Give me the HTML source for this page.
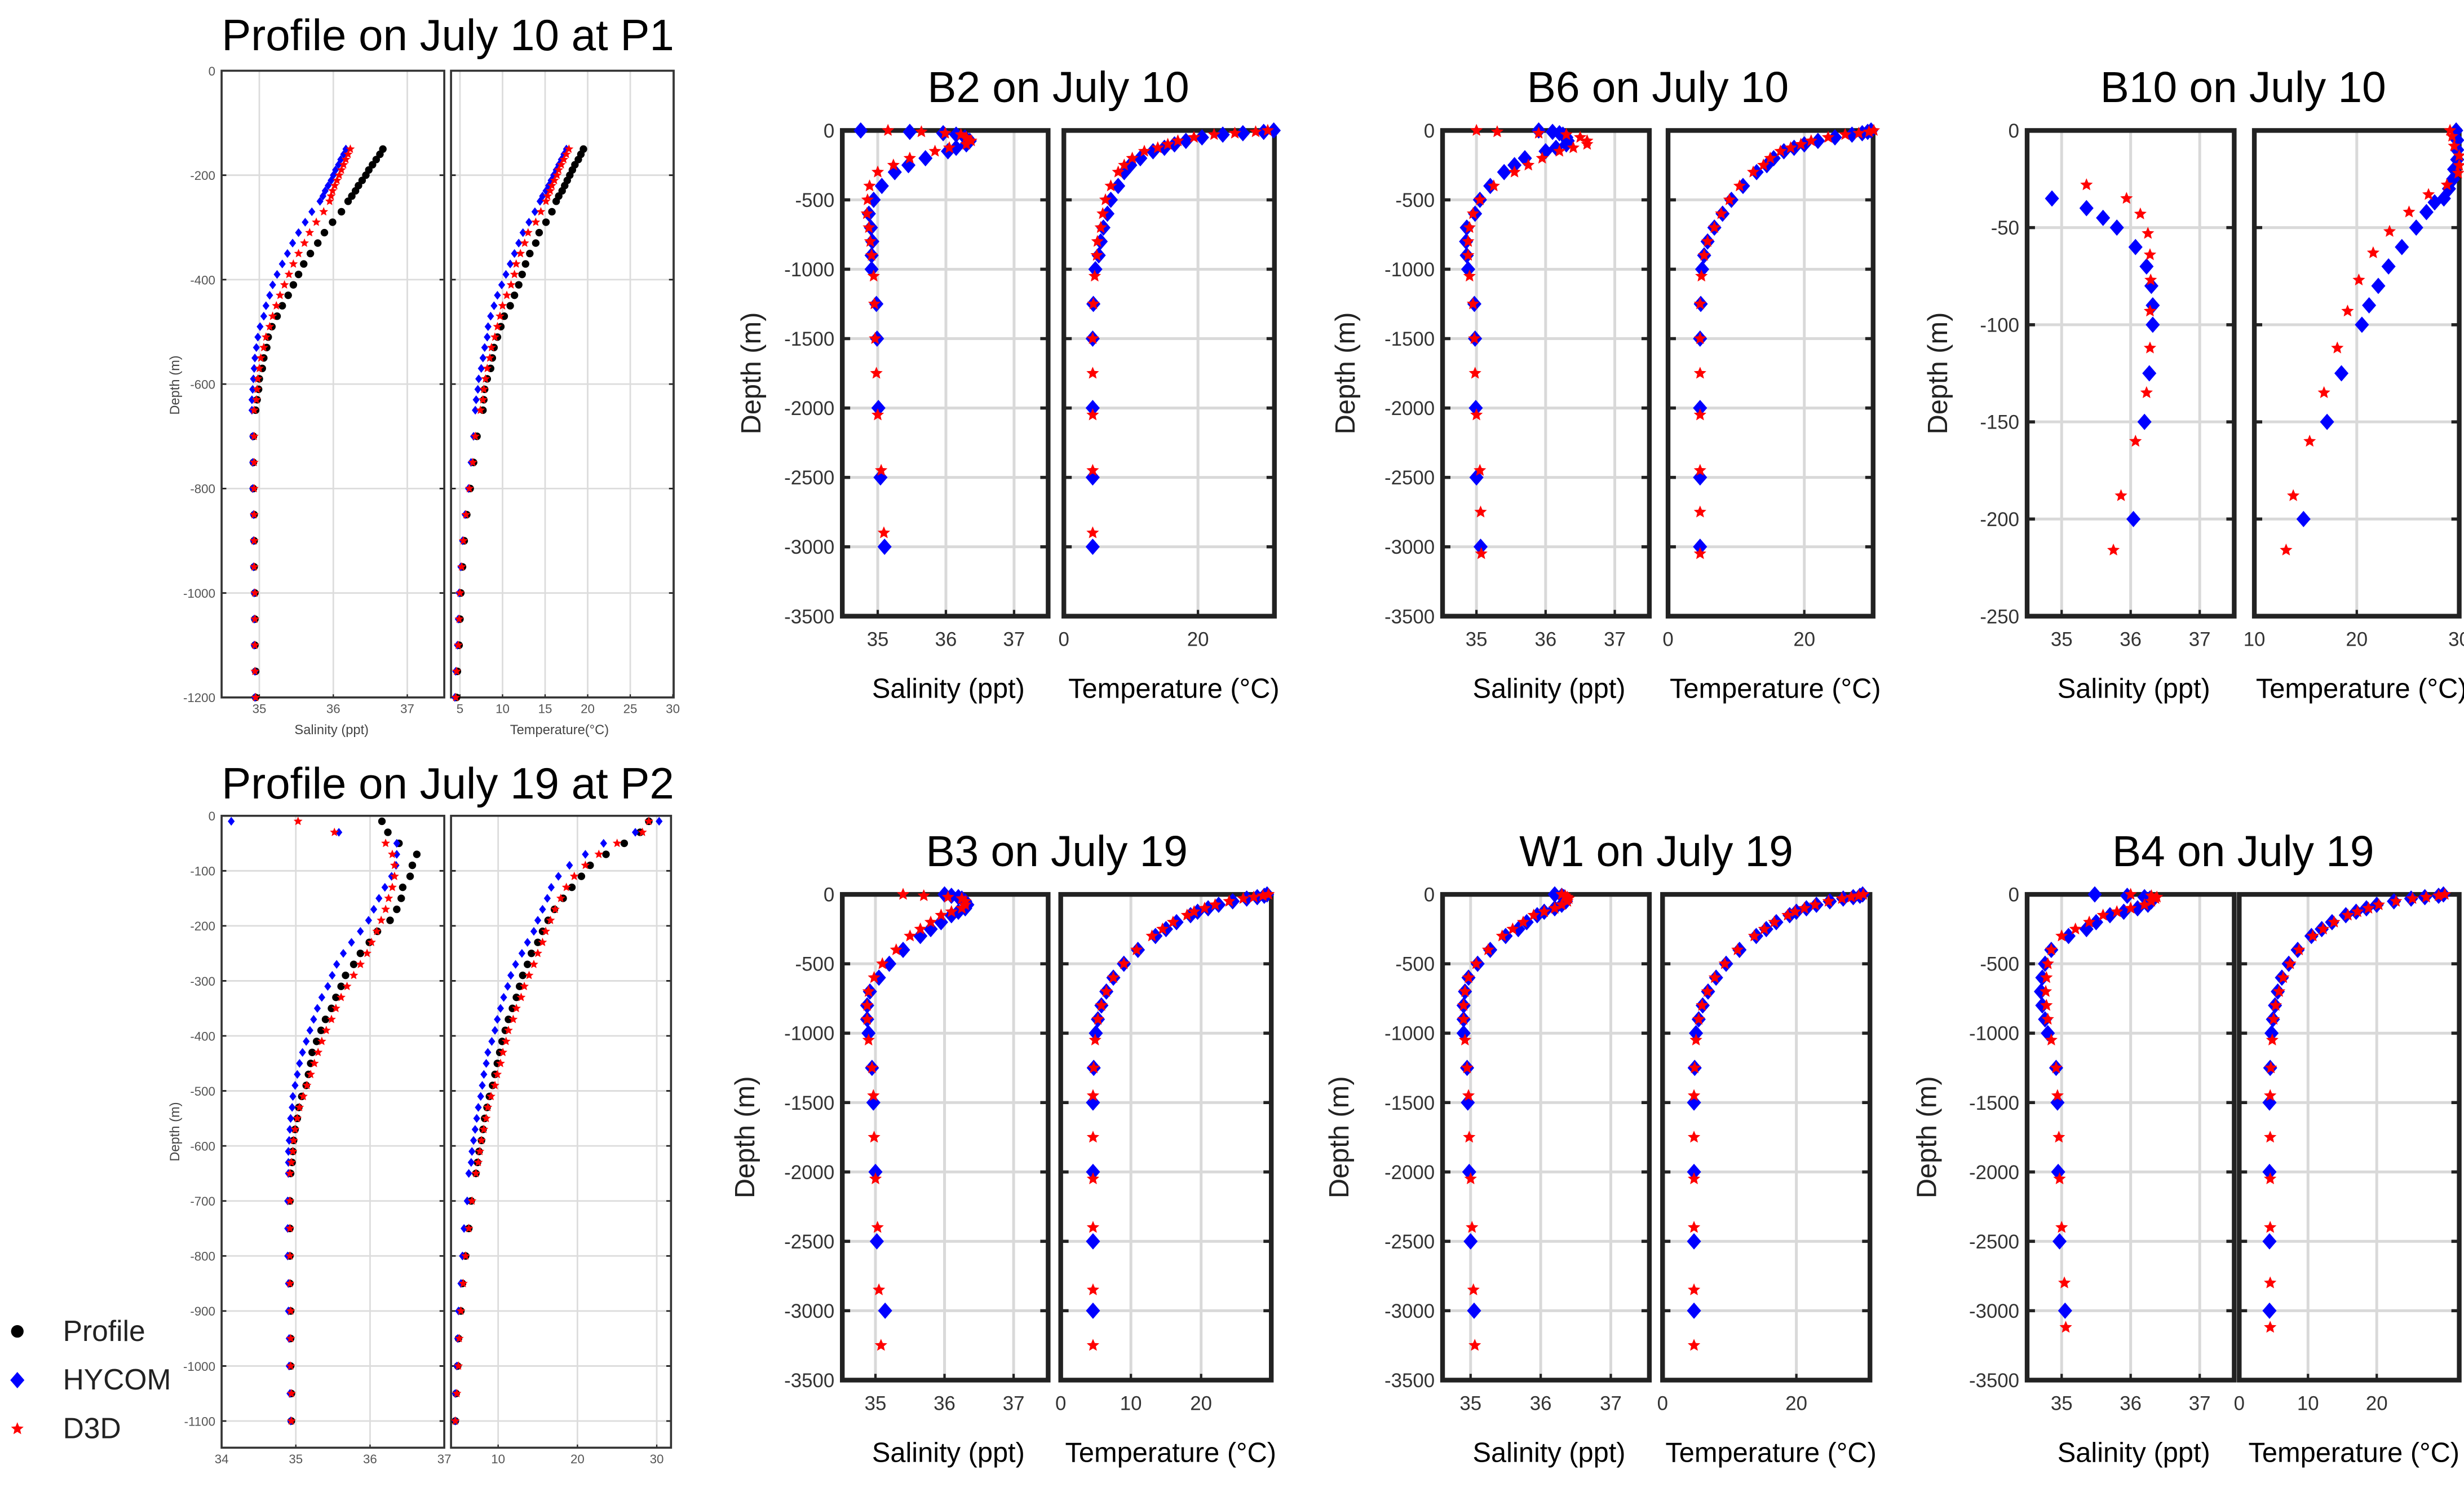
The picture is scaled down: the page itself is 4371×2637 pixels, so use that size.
<!DOCTYPE html>
<html><head><meta charset="utf-8"><title>Salinity and temperature profiles</title>
<style>
html,body{margin:0;padding:0;background:#fff;}
svg{display:block;}
text{font-family:"Liberation Sans",Arial,sans-serif;}
</style></head>
<body>
<svg id="fig" xmlns="http://www.w3.org/2000/svg" width="4371" height="2637" viewBox="0 0 1568 946">
<rect x="0" y="0" width="1568" height="946" fill="#fff"/>
</svg>
<script>
// ---------- tick arrays ----------
const p1DepthTicks=[0,200,400,600,800,1000,1200];
const p2DepthTicks=[0,100,200,300,400,500,600,700,800,900,1000,1100];
const bDepthTicks=[0,500,1000,1500,2000,2500,3000,3500];
const b10DepthTicks=[0,50,100,150,200,250];
const salTicks=[35,36,37];
const p2SalTicks=[34,35,36,37];
const p1TempTicks=[5,10,15,20,25,30];
const p2TempTicks=[10,20,30];
const tempTicks0_20=[0,20];
const tempTicks0_10_20=[0,10,20];
const tempTicks10_30=[10,20,30];

// ---------- P1 data ----------
const p1Depth=[150,160,170,180,190,200,210,220,230,240,250,270,290,310,330,350,370,390,410,430,450,470,490,510,530,550,570,590,610,630,650,700,750,800,850,900,950,1000,1050,1100,1150,1200];
const p1SalProfile=[36.67,36.63,36.58,36.53,36.48,36.44,36.39,36.34,36.3,36.25,36.2,36.11,35.99,35.88,35.79,35.69,35.6,35.53,35.46,35.39,35.31,35.24,35.17,35.12,35.1,35.06,35.04,35.0,34.99,34.97,34.95,34.92,34.92,34.92,34.93,34.93,34.93,34.94,34.94,34.94,34.95,34.95];
const p1SalHycom=[36.17,36.14,36.1,36.07,36.03,36.0,35.97,35.93,35.89,35.86,35.82,35.71,35.62,35.53,35.45,35.38,35.31,35.24,35.18,35.14,35.09,35.06,35.01,34.98,34.96,34.94,34.93,34.92,34.91,34.9,34.9,34.91,34.91,34.91,34.92,34.92,34.92,34.93,34.93,34.93,34.94,34.94];
const p1SalD3D=[36.23,36.2,36.17,36.14,36.11,36.08,36.05,36.02,35.99,35.97,35.95,35.87,35.77,35.68,35.61,35.53,35.46,35.4,35.34,35.28,35.23,35.18,35.14,35.09,35.06,35.02,35.0,34.98,34.97,34.96,34.93,34.93,34.93,34.93,34.93,34.93,34.93,34.94,34.94,34.94,34.94,34.95];
const p1TempProfile=[19.5,19.2,18.9,18.5,18.2,17.9,17.6,17.3,17.0,16.6,16.3,15.8,15.1,14.3,13.9,13.2,12.7,12.3,11.9,11.4,10.9,10.2,9.8,9.4,9.0,8.8,8.6,8.2,7.9,7.8,7.7,7.0,6.6,6.2,5.8,5.5,5.3,5.1,5.0,4.9,4.7,4.6];
const p1TempHycom=[17.5,17.2,16.9,16.6,16.3,16.0,15.7,15.4,15.1,14.7,14.4,13.8,13.1,12.4,11.9,11.4,10.9,10.4,9.9,9.4,9.0,8.6,8.3,8.2,7.9,7.7,7.5,7.2,7.1,6.9,6.8,6.6,6.3,6.0,5.6,5.3,5.1,4.9,4.8,4.7,4.5,4.4];
const p1TempD3D=[17.8,17.5,17.2,16.9,16.6,16.4,16.1,15.8,15.6,15.3,15.1,14.5,13.9,13.0,12.6,12.1,11.6,11.4,11.0,10.5,10.0,9.7,9.4,9.1,8.7,8.5,8.2,8.0,7.8,7.7,7.4,6.8,6.5,6.1,5.7,5.4,5.2,5.0,4.9,4.8,4.6,4.5];

// ---------- P2 data ----------
const p2Depth=[10,30,50,70,90,110,130,150,170,190,210,230,250,270,290,310,330,350,370,390,410,430,450,470,490,510,530,550,570,590,610,630,650,700,750,800,850,900,950,1000,1050,1100];
const p2SalProfile=[36.16,36.24,36.39,36.63,36.57,36.54,36.44,36.42,36.36,36.27,36.1,35.99,35.87,35.78,35.67,35.61,35.54,35.48,35.4,35.34,35.28,35.22,35.2,35.17,35.14,35.08,35.04,35.02,34.99,34.97,34.96,34.95,34.93,34.92,34.92,34.92,34.92,34.93,34.93,34.93,34.94,34.94];
const p2SalHycom=[34.13,35.58,36.36,36.36,36.35,36.29,36.2,36.12,36.05,35.98,35.87,35.75,35.64,35.55,35.49,35.43,35.35,35.29,35.24,35.19,35.14,35.09,35.05,35.02,34.99,34.96,34.95,34.93,34.92,34.91,34.9,34.9,34.9,34.89,34.89,34.89,34.9,34.9,34.91,34.91,34.92,34.93];
const p2SalD3D=[35.03,35.52,36.21,36.3,36.33,36.33,36.3,36.25,36.21,36.15,36.09,36.02,35.96,35.87,35.78,35.69,35.61,35.54,35.48,35.41,35.35,35.3,35.25,35.2,35.15,35.1,35.05,35.02,34.99,34.97,34.96,34.94,34.92,34.92,34.92,34.92,34.92,34.93,34.93,34.93,34.94,34.94];
const p2TempProfile=[29.0,27.9,25.9,23.6,21.6,20.5,19.3,18.2,17.1,16.3,15.6,15.0,14.2,13.7,13.1,12.7,12.3,11.8,11.3,10.9,10.5,10.2,9.9,9.6,9.3,8.9,8.6,8.3,8.1,7.9,7.6,7.4,7.2,6.6,6.3,5.9,5.5,5.3,5.0,4.9,4.7,4.6];
const p2TempHycom=[30.3,27.3,23.3,21.0,19.0,17.6,16.7,16.2,15.6,15.0,14.5,13.7,13.0,12.2,11.6,11.2,10.7,10.3,9.9,9.6,9.2,8.7,8.5,8.2,8.0,7.8,7.5,7.3,7.1,6.9,6.7,6.6,6.3,6.1,5.7,5.5,5.3,5.0,4.9,4.8,4.6,4.6];
const p2TempD3D=[29.0,28.2,25.0,22.7,21.0,19.6,18.6,17.9,17.2,16.6,16.0,15.6,15.0,14.5,13.9,13.3,12.9,12.3,11.9,11.3,11.0,10.6,10.3,9.9,9.6,9.1,8.7,8.5,8.2,7.9,7.7,7.5,7.2,6.7,6.3,5.9,5.6,5.3,5.1,5.0,4.8,4.6];

// ---------- B-station shared depths ----------
const hycomDepth=[0,10,20,30,50,75,100,125,150,200,250,300,400,500,600,700,800,900,1000,1250,1500,2000,2500,3000];
const d3dDepthRow1=[0,10,20,30,50,75,100,125,150,200,250,300,400,500,600,700,800,900,1050,1250,1500,1750,2050,2450,2900];
const b6D3DDepth=[0,10,20,30,50,75,100,125,150,200,250,300,400,500,600,700,800,900,1050,1250,1500,1750,2050,2450,2750,3050];
const d3dDepthRow2=[0,10,20,30,50,75,100,125,150,200,250,300,400,500,600,700,800,900,1050,1250,1450,1750,2050,2400,2850,3250];
const b4D3DDepth=[0,10,20,30,50,75,100,125,150,200,250,300,400,500,600,700,800,900,1050,1250,1450,1750,2050,2400,2800,3120];

// B2
const b2SalHycom=[34.75,35.47,35.96,36.15,36.28,36.35,36.3,36.15,36.03,35.7,35.45,35.25,35.06,34.94,34.87,34.9,34.92,34.91,34.91,34.98,34.99,35.01,35.04,35.1];
const b2TempHycom=[31.3,29.8,26.7,23.7,20.6,18.2,16.5,15.0,13.3,11.4,9.9,9.0,8.1,7.0,6.5,5.9,5.5,5.2,4.7,4.4,4.3,4.3,4.3,4.3];
const b2SalD3D=[35.15,35.64,35.99,36.22,36.3,36.37,36.3,36.05,35.84,35.47,35.23,35.0,34.88,34.85,34.84,34.87,34.89,34.91,34.94,34.95,34.96,34.98,35.0,35.05,35.09];
const b2TempD3D=[30.4,28.6,25.5,22.4,19.4,17.0,15.5,14.0,12.0,10.2,9.0,8.1,7.0,6.2,5.8,5.5,5.0,4.9,4.6,4.4,4.3,4.3,4.3,4.3,4.3];
// B6
const b6SalHycom=[35.9,36.1,36.2,36.25,36.3,36.32,36.3,36.15,36.0,35.7,35.55,35.4,35.2,35.05,34.98,34.86,34.85,34.86,34.88,34.97,34.98,34.99,35.0,35.06];
const b6TempHycom=[29.8,29.3,28.5,27.0,24.5,22.0,20.0,18.5,17.0,15.5,14.5,13.0,11.0,9.3,8.0,6.8,5.8,5.3,5.0,4.8,4.7,4.7,4.7,4.7];
const b6SalD3D=[35.0,35.3,35.9,36.3,36.5,36.6,36.6,36.4,36.2,35.95,35.75,35.55,35.25,35.05,34.95,34.9,34.88,34.88,34.9,34.95,34.97,34.98,35.0,35.05,35.06,35.07];
const b6TempD3D=[30.2,29.5,28.0,26.0,23.5,21.0,19.5,18.0,16.5,15.0,14.0,12.5,10.5,9.0,7.8,6.8,5.8,5.3,4.9,4.7,4.7,4.7,4.7,4.7,4.7,4.7];
// B10
const b10HycomDepth=[0,5,10,15,20,25,30,35,37,40,42,45,50,60,70,80,90,100,125,150,200];
const b10SalHycom=[null,null,null,null,null,null,null,34.86,null,35.36,null,35.6,35.8,36.07,36.23,36.3,36.32,36.32,36.27,36.2,36.04];
const b10TempHycom=[29.7,29.8,29.8,29.8,29.5,29.4,29.0,28.5,27.6,null,26.8,null,25.8,24.4,23.1,22.1,21.2,20.5,18.5,17.1,14.8];
const b10D3DDepth=[0,3,8,13,18,22,28,33,35,42,43,52,53,63,64,77,93,112,135,160,188,216];
const b10SalD3D=[null,null,null,null,null,null,35.36,null,35.94,null,36.14,null,36.25,null,36.28,36.29,36.28,36.28,36.23,36.07,35.86,35.75];
const b10TempD3D=[29.1,29.3,29.5,30.0,30.0,29.9,28.8,27.0,null,25.1,null,23.2,null,21.6,null,20.2,19.1,18.1,16.8,15.4,13.8,13.1];
// B3
const b3SalHycom=[36.0,36.1,36.2,36.25,36.3,36.33,36.3,36.2,36.1,35.95,35.8,35.65,35.4,35.2,35.05,34.92,34.88,34.88,34.9,34.95,34.97,35.0,35.02,35.14];
const b3TempHycom=[29.4,29.0,28.0,26.5,24.5,22.5,21.0,19.5,18.5,16.5,15.0,13.5,11.0,9.0,7.5,6.5,5.8,5.3,5.0,4.7,4.6,4.6,4.6,4.6];
const b3SalD3D=[35.4,35.7,36.05,36.25,36.3,36.3,36.25,36.1,35.95,35.8,35.65,35.5,35.3,35.1,34.98,34.9,34.88,34.88,34.9,34.95,34.97,34.98,35.0,35.03,35.05,35.08];
const b3TempD3D=[29.6,28.8,27.5,26.0,24.0,22.0,20.5,19.0,18.0,16.0,14.5,13.0,10.8,9.0,7.5,6.5,5.8,5.3,4.9,4.7,4.6,4.6,4.6,4.6,4.6,4.6];
// W1
const w1SalHycom=[36.2,36.3,36.33,36.35,36.36,36.3,36.2,36.05,35.95,35.8,35.68,35.5,35.28,35.1,34.97,34.92,34.9,34.9,34.9,34.95,34.96,34.98,35.0,35.05];
const w1TempHycom=[29.9,29.5,28.5,27.0,25.0,23.0,21.5,20.0,19.0,17.0,15.5,14.0,11.5,9.5,8.0,6.8,6.0,5.4,5.0,4.8,4.7,4.7,4.7,4.7];
const w1SalD3D=[36.3,36.35,36.38,36.4,36.38,36.3,36.2,36.05,35.9,35.75,35.6,35.45,35.25,35.08,34.97,34.92,34.9,34.9,34.92,34.95,34.97,34.98,35.0,35.02,35.04,35.06];
const w1TempD3D=[30.0,29.3,28.2,26.8,24.8,22.8,21.2,19.8,18.7,16.7,15.2,13.7,11.2,9.3,7.8,6.7,5.9,5.4,5.0,4.8,4.7,4.7,4.7,4.7,4.7,4.7];
// B4
const b4SalHycom=[35.48,35.95,36.2,36.28,36.3,36.25,36.1,35.9,35.7,35.5,35.36,35.1,34.85,34.76,34.72,34.7,34.72,34.76,34.8,34.92,34.94,34.95,34.97,35.05];
const b4TempHycom=[29.7,29.0,27.0,25.0,22.5,20.0,18.5,17.0,15.5,13.5,12.0,10.5,8.5,7.2,6.2,5.6,5.2,4.9,4.7,4.5,4.4,4.4,4.4,4.4];
const b4SalD3D=[36.0,36.3,36.38,36.36,36.3,36.2,36.0,35.8,35.6,35.4,35.2,35.0,34.85,34.8,34.78,34.77,34.78,34.8,34.85,34.92,34.94,34.96,34.97,35.0,35.04,35.06];
const b4TempD3D=[29.9,29.0,27.2,25.2,22.8,20.3,18.8,17.2,15.8,13.8,12.2,10.7,8.7,7.4,6.4,5.8,5.3,5.0,4.8,4.6,4.5,4.5,4.5,4.5,4.5,4.5];

// ---------- drawing ----------
const NS='http://www.w3.org/2000/svg';
const svg=document.getElementById('fig');
function mk(tag,parent){const e=document.createElementNS(NS,tag);parent.appendChild(e);return e;}
function setA(e,o){for(const k in o)e.setAttribute(k,o[k]);}

function axis(cfg){
  const g=mk('g',svg);
  
  
  const sx=v=>cfg.x0+(v-cfg.xmin)/(cfg.xmax-cfg.xmin)*(cfg.x1-cfg.x0);
  const sy=d=>cfg.y0+d/cfg.dmax*(cfg.y1-cfg.y0);
  const thick=cfg.thick;
  const gc=thick?'#d9d9d9':'#dcdcdc', gw=thick?1.8:1;
  cfg.xticks.forEach(t=>{
    const x=sx(t);
    const l=mk('line',g);setA(l,{x1:x,x2:x,y1:cfg.y0,y2:cfg.y1,stroke:gc,'stroke-width':gw});
    
    
    const tk=mk('line',g);setA(tk,{x1:x,x2:x,y1:cfg.y1,y2:cfg.y1-(thick?4:2),stroke:'#222','stroke-width':thick?1.5:0.8});
    
    
    const tx=mk('text',g);setA(tx,{x:x,y:cfg.y1+(thick?19:10),'text-anchor':'middle','font-size':thick?12.5:8,fill:thick?'#333':'#555'});
    tx.textContent=String(t);
    
    
  });
  cfg.yticks.forEach(t=>{
    const y=sy(t);
    if(t>0&&t<cfg.dmax){
      const l=mk('line',g);setA(l,{x1:cfg.x0,x2:cfg.x1,y1:y,y2:y,stroke:gc,'stroke-width':gw});
      
      
    }
    const tl=mk('path',g);const L=thick?5:3;
    setA(tl,{d:`M${cfg.x0},${y}h${L}M${cfg.x1},${y}h${-L}`,stroke:'#222','stroke-width':thick?2:1});
    
    
    if(cfg.ylabels){
      const tx=mk('text',g);setA(tx,{x:cfg.x0-(thick?5:4),y:y+(thick?4.5:3),'text-anchor':'end','font-size':thick?12.5:8,fill:thick?'#333':'#555'});
      tx.textContent=t===0?'0':'-'+t;
      
      
    }
  });
  const r=mk('rect',g);setA(r,{x:cfg.x0,y:cfg.y0,width:cfg.x1-cfg.x0,height:cfg.y1-cfg.y0,fill:'none',stroke:thick?'#222':'#333','stroke-width':thick?3:1.3});
  
  
  cfg.sx=sx;cfg.sy=sy;cfg.g=g;
  return cfg;
}

function marker(g,type,x,y,big){
  let e;
  if(type==='dot'){e=mk('circle',g);setA(e,{cx:x,cy:y,r:big?4:2.4,fill:'#000'});}
  else if(type==='diamond'){const w=big?4.5:2.2,h=big?5.2:2.8;e=mk('polygon',g);setA(e,{points:`${x},${y-h} ${x+w},${y} ${x},${y+h} ${x-w},${y}`,fill:'#0000ff'});}
  else{const R=big?4.2:3,ri=R*0.45;let p=[];for(let i=0;i<10;i++){const a=-Math.PI/2+i*Math.PI/5;const rr=i%2?ri:R;p.push((x+rr*Math.cos(a)).toFixed(2)+','+(y+rr*Math.sin(a)).toFixed(2));}
    e=mk('polygon',g);setA(e,{points:p.join(' '),fill:'#ff0000'});}
  return e;
}

function series(cfg,depths,vals,type,name){
  const g=mk('g',cfg.g);
  
  
  depths.forEach((d,i)=>{
    const v=vals[i];
    if(v===null||v===undefined)return;
    if(v<cfg.xmin-0.5||v>cfg.xmax+0.5)return;
    const m=marker(g,type,cfg.sx(v),cfg.sy(d),cfg.thick);
    
    
  });
}

function text(x,y,s,size,opts,name){
  const t=mk('text',svg);
  setA(t,{x:x,y:y,'font-size':size,'text-anchor':'middle',fill:'#000'});
  if(opts){setA(t,opts);}
  t.textContent=s;
  
  
  return t;
}

// ===== P1 =====
let a=axis({name:'p1-salinity-panel',x0:141,x1:282.7,y0:45,y1:443.7,xmin:34.49,xmax:37.5,dmax:1200,xticks:salTicks,yticks:p1DepthTicks,ylabels:true,thick:false});
series(a,p1Depth,p1SalProfile,'dot','p1-salinity-profile');
series(a,p1Depth,p1SalHycom,'diamond','p1-salinity-hycom');
series(a,p1Depth,p1SalD3D,'star','p1-salinity-d3d');
a=axis({name:'p1-temperature-panel',x0:287,x1:428.7,y0:45,y1:443.7,xmin:3.95,xmax:30.1,dmax:1200,xticks:p1TempTicks,yticks:p1DepthTicks,ylabels:false,thick:false});
series(a,p1Depth,p1TempProfile,'dot','p1-temperature-profile');
series(a,p1Depth,p1TempHycom,'diamond','p1-temperature-hycom');
series(a,p1Depth,p1TempD3D,'star','p1-temperature-d3d');
text(285,32,'Profile on July 10 at P1',28,null,'p1-title');
text(211,467,'Salinity (ppt)',8.5,{fill:'#444'},'p1-salinity-axis-title');
text(356,467,'Temperature(°C)',8.5,{fill:'#444'},'p1-temperature-axis-title');
text(0,0,'Depth (m)',8.5,{fill:'#444',transform:'translate(114,245) rotate(-90)'},'p1-depth-axis-title');

// ===== P2 =====
a=axis({name:'p2-salinity-panel',x0:141,x1:282.7,y0:519,y1:921,xmin:34,xmax:37,dmax:1148.5,xticks:p2SalTicks,yticks:p2DepthTicks,ylabels:true,thick:false});
series(a,p2Depth,p2SalProfile,'dot','p2-salinity-profile');
series(a,p2Depth,p2SalHycom,'diamond','p2-salinity-hycom');
series(a,p2Depth,p2SalD3D,'star','p2-salinity-d3d');
a=axis({name:'p2-temperature-panel',x0:287,x1:427,y0:519,y1:921,xmin:4.06,xmax:31.8,dmax:1148.5,xticks:p2TempTicks,yticks:p2DepthTicks,ylabels:false,thick:false});
series(a,p2Depth,p2TempProfile,'dot','p2-temperature-profile');
series(a,p2Depth,p2TempHycom,'diamond','p2-temperature-hycom');
series(a,p2Depth,p2TempD3D,'star','p2-temperature-d3d');
text(285,508,'Profile on July 19 at P2',28,null,'p2-title');
text(0,0,'Depth (m)',8.5,{fill:'#444',transform:'translate(114,720) rotate(-90)'},'p2-depth-axis-title');

// ===== B panels =====
function station(o){
  let s=axis({name:o.key+'-salinity-panel',x0:o.sx0,x1:o.sx1,y0:o.y0,y1:o.y1,xmin:o.smin,xmax:o.smax,dmax:o.dmax,xticks:salTicks,yticks:o.yticks,ylabels:true,thick:true});
  series(s,o.hyD,o.salH,'diamond',o.key+'-salinity-hycom');
  series(s,o.d3D,o.salD,'star',o.key+'-salinity-d3d');
  let t=axis({name:o.key+'-temperature-panel',x0:o.tx0,x1:o.tx1,y0:o.y0,y1:o.y1,xmin:o.tmin,xmax:o.tmax,dmax:o.dmax,xticks:o.tticks,yticks:o.yticks,ylabels:false,thick:true});
  series(t,o.hyD,o.tempH,'diamond',o.key+'-temperature-hycom');
  series(t,o.d3D,o.tempD,'star',o.key+'-temperature-d3d');
  text((o.sx0+o.tx1)/2,o.y0-18,o.title,27.5,null,o.key+'-title');
  text((o.sx0+o.sx1)/2+2,o.y1+52,'Salinity (ppt)',17.5,null,o.key+'-salinity-axis-title');
  text((o.tx0+o.tx1)/2+3,o.y1+52,'Temperature (°C)',17.5,null,o.key+'-temperature-axis-title');
  text(0,0,'Depth (m)',17.5,{transform:`translate(${o.dx},${(o.y0+o.y1)/2}) rotate(-90)`,fill:'#222'},o.key+'-depth-axis-title');
}
station({key:'b2',title:'B2 on July 10',sx0:536,sx1:667,tx0:677,tx1:811,y0:83,y1:392,smin:34.48,smax:37.5,tmin:0,tmax:31.4,dmax:3500,yticks:bDepthTicks,tticks:tempTicks0_20,hyD:hycomDepth,d3D:d3dDepthRow1,salH:b2SalHycom,salD:b2SalD3D,tempH:b2TempHycom,tempD:b2TempD3D,dx:484});
station({key:'b6',title:'B6 on July 10',sx0:918,sx1:1049.6,tx0:1061.5,tx1:1192,y0:83,y1:392,smin:34.51,smax:37.5,tmin:0,tmax:30.1,dmax:3500,yticks:bDepthTicks,tticks:tempTicks0_20,hyD:hycomDepth,d3D:b6D3DDepth,salH:b6SalHycom,salD:b6SalD3D,tempH:b6TempHycom,tempD:b6TempD3D,dx:862});
station({key:'b10',title:'B10 on July 10',sx0:1290,sx1:1421.8,tx0:1434.6,tx1:1565,y0:83,y1:392,smin:34.5,smax:37.5,tmin:10,tmax:30,dmax:250,yticks:b10DepthTicks,tticks:tempTicks10_30,hyD:b10HycomDepth,d3D:b10D3DDepth,salH:b10SalHycom,salD:b10SalD3D,tempH:b10TempHycom,tempD:b10TempD3D,dx:1239});
station({key:'b3',title:'B3 on July 19',sx0:536,sx1:667,tx0:675,tx1:809,y0:569,y1:878,smin:34.52,smax:37.5,tmin:0,tmax:30,dmax:3500,yticks:bDepthTicks,tticks:tempTicks0_10_20,hyD:hycomDepth,d3D:d3dDepthRow2,salH:b3SalHycom,salD:b3SalD3D,tempH:b3TempHycom,tempD:b3TempD3D,dx:480});
station({key:'w1',title:'W1 on July 19',sx0:918,sx1:1049.6,tx0:1058,tx1:1190,y0:569,y1:878,smin:34.6,smax:37.55,tmin:0,tmax:31,dmax:3500,yticks:bDepthTicks,tticks:tempTicks0_20,hyD:hycomDepth,d3D:d3dDepthRow2,salH:w1SalHycom,salD:w1SalD3D,tempH:w1TempHycom,tempD:w1TempD3D,dx:858});
station({key:'b4',title:'B4 on July 19',sx0:1290,sx1:1421.8,tx0:1425,tx1:1565,y0:569,y1:878,smin:34.5,smax:37.5,tmin:0,tmax:32,dmax:3500,yticks:bDepthTicks,tticks:tempTicks0_10_20,hyD:hycomDepth,d3D:b4D3DDepth,salH:b4SalHycom,salD:b4SalD3D,tempH:b4TempHycom,tempD:b4TempD3D,dx:1232});

// ===== Legend =====
const lg=mk('g',svg);


const legendItems=[['dot','Profile',847],['diamond','HYCOM',878],['star','D3D',909]];
legendItems.forEach(it=>{
  const m=marker(lg,it[0],11,it[2],true);
  
  
  const t=mk('text',lg);setA(t,{x:40,y:it[2]+6,'font-size':18.5,fill:'#222'});
  t.textContent=it[1];
  
  
});
</script>
</body></html>
